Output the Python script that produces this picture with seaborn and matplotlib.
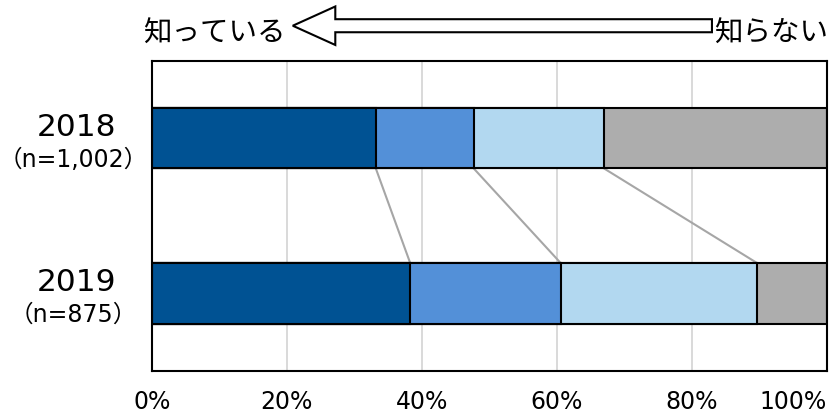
import matplotlib
matplotlib.use("Agg")
import matplotlib.pyplot as plt
import matplotlib.transforms as mtransforms
from matplotlib.patches import Polygon
import seaborn as sns
import pandas as pd
import numpy as np

years = ["2018", "2019"]
n_labels = ["（n=1,002）", "（n=875）"]
segments = ["s1", "s2", "s3", "s4"]
v2018 = [33.2, 14.5, 19.3, 33.0]
v2019 = [38.3, 22.3, 29.1, 10.3]
colors = ["#005293", "#5390d8", "#b2d8f0", "#adadad"]
ticks = [0, 20, 40, 60, 80, 100]
tick_labels = ["0%", "20%", "40%", "60%", "80%", "100%"]
left_label = "知っている"
right_label = "知らない"

sns.set_theme(style="white")
plt.rcParams['font.family'] = ['DejaVu Sans', 'Noto Sans CJK JP']
JP = ['Noto Sans CJK JP', 'DejaVu Sans']

W, H = 834, 414
fig = plt.figure(figsize=(W / 100, H / 100), dpi=100)
ax = fig.add_axes([151.7 / W, (H - 372) / H, 675 / W, 310.5 / H])

vals = np.array([v2018, v2019])
cum = np.cumsum(vals, axis=1)
bar_h = 0.39

# gridlines
for t in ticks[1:-1]:
    ax.axvline(t, color="#d9d9d9", lw=1.4, zorder=0)

# stacked bars via cumulative layers (largest first)
for i in range(len(segments) - 1, -1, -1):
    df = pd.DataFrame({"year": years, "value": cum[:, i]})
    sns.barplot(data=df, x="value", y="year", orient="h", color=colors[i],
                width=bar_h, edgecolor="black", linewidth=1.5, ax=ax,
                saturation=1, zorder=2)

# connector lines
for i in range(len(segments) - 1):
    ax.plot([cum[0, i], cum[1, i]], [0 + bar_h / 2, 1 - bar_h / 2],
            color="#a6a6a6", lw=1.5, zorder=1)

ax.set_xlim(0, 100)
ax.set_ylim(1.5, -0.5)
ax.set_xticks(ticks)
ax.set_xticklabels(tick_labels, fontsize=17, color="black")
ax.get_xticklabels()[-1].set_horizontalalignment("right")
ax.set_yticks([])
ax.set_xlabel("")
ax.set_ylabel("")
ax.tick_params(axis="x", length=0, pad=13, labelcolor="black")
for s in ax.spines.values():
    s.set_visible(True)
    s.set_color("black")
    s.set_linewidth(1.5)

# category labels
trans = mtransforms.blended_transform_factory(ax.transAxes, ax.transData)
for k, (yl, nl) in enumerate(zip(years, n_labels)):
    ax.text(-0.111, k - 0.0225, yl, transform=trans, ha="center", va="baseline",
            fontsize=22.5, color="black")
    ax.text(-0.116, k + 0.177, nl, transform=trans, ha="center", va="baseline",
            fontsize=17, color="black")

# arrow header
ya = 1.112
sh = 0.021
hh = 0.062
xtip, xbase, xtail = 0.209, 0.272, 0.830
pts = [(xtip, ya), (xbase, ya + hh), (xbase, ya + sh), (xtail, ya + sh),
       (xtail, ya - sh), (xbase, ya - sh), (xbase, ya - hh)]
ax.add_patch(Polygon(pts, closed=True, transform=ax.transAxes, facecolor="white",
                     edgecolor="black", lw=1.5, clip_on=False))
ax.text(0.199, ya - 0.022, left_label, transform=ax.transAxes, ha="right", va="center",
        fontsize=20.5, color="black", family=JP)
ax.text(1.002, ya - 0.022, right_label, transform=ax.transAxes, ha="right", va="center",
        fontsize=20.5, color="black", family=JP)

fig.savefig("out.png", dpi=100, facecolor="white")
